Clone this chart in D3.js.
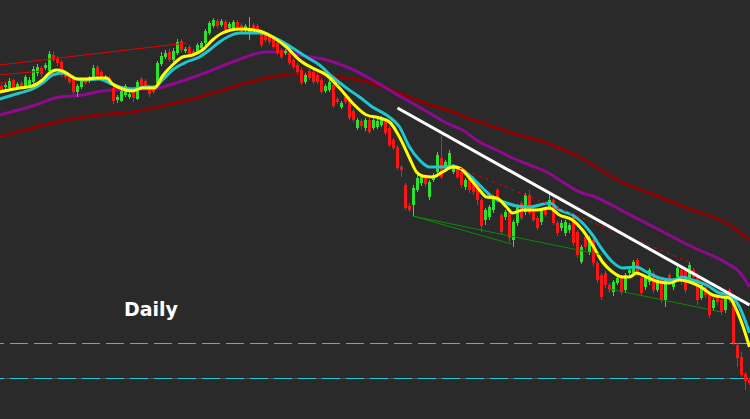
<!DOCTYPE html>
<html>
<head>
<meta charset="utf-8">
<script src="https://cdn.jsdelivr.net/npm/d3@7"></script>
<style>
  html, body { margin: 0; padding: 0; background: #2a2a2a; overflow: hidden; }
  svg { display: block; }
</style>
</head>
<body>
<script>
let WIDTH = 750,
    HEIGHT = 419;

// daily bars, oldest first (price in points)
const opens = [
  414,413,412,420,412,417,414,415,418,427,
  432,432,429,445,442,438,427,425,422,408,
  413,420,419,421,433,428,420,422,412,400,
  399,405,403,408,401,421,419,413,413,417,
  436,443,448,440,447,459,449,453,449,448,
  452,457,467,474,479,475,478,472,471,478,
  475,470,466,475,474,467,465,464,462,457,
  450,447,447,440,435,430,418,429,428,425,
  420,409,410,415,401,393,403,400,389,372,
  379,372,380,372,373,375,378,372,360,353,
  333,315,294,295,310,317,322,303,320,328,
  342,333,335,328,332,328,313,323,322,317,
  300,280,283,290,310,285,283,287,260,277,
  297,288,305,288,282,278,292,293,300,277,
  272,267,270,285,268,238,263,248,260,237,
  225,227,215,208,217,223,210,227,227,240,
  222,213,218,227,210,220,200,225,213,223,
  230,230,220,230,225,202,213,207,192,203,
  200,190,210,200,155,143,126,120
];
const highs = [
  416,418,422,421,418,419,425,423,434,436,
  434,437,449,448,444,440,429,427,424,416,
  421,422,424,435,435,430,425,424,414,405,
  411,416,408,411,420,423,421,415,415,439,
  448,450,451,452,461,461,453,455,451,457,
  459,471,479,482,481,481,480,478,480,480,
  477,476,483,477,476,469,467,466,464,459,
  452,451,449,442,437,432,427,431,430,427,
  422,416,420,418,403,399,405,402,391,382,
  381,382,382,382,381,384,380,374,362,355,
  335,317,297,315,325,325,324,320,327,348,
  365,340,350,336,334,330,322,325,324,319,
  302,292,295,305,312,287,290,289,280,296,
  299,307,310,290,284,292,294,305,302,279,
  280,280,277,287,270,255,265,264,262,239,
  227,229,217,220,224,225,227,232,240,242,
  224,225,232,229,222,222,222,227,222,237,
  232,232,238,232,227,217,215,209,202,205,
  202,204,212,202,157,148,128,122
];
const lows = [
  407,410,409,410,410,411,412,412,416,424,
  423,430,427,438,434,423,421,416,406,403,
  411,415,417,419,423,418,418,415,396,397,
  398,403,401,398,400,411,411,403,406,415,
  434,441,438,438,445,448,447,444,443,446,
  450,455,465,472,472,473,468,470,469,471,
  466,467,460,468,466,453,458,456,451,445,
  441,445,435,431,426,415,416,420,416,416,
  406,407,408,392,396,391,396,380,378,370,
  371,369,366,370,371,373,365,353,350,330,
  323,290,288,283,308,314,313,300,318,325,
  321,331,332,326,321,312,310,307,305,295,
  268,275,280,287,297,266,280,258,253,274,
  280,285,285,278,270,275,283,290,275,264,
  269,264,267,254,242,236,250,245,234,217,
  200,212,207,204,215,205,207,224,224,224,
  204,210,215,207,208,197,193,215,210,220,
  215,207,217,220,195,200,202,182,189,195,
  185,187,197,155,133,123,110,115
];
const closes = [
  410,415,419,412,416,413,423,420,431,433,
  426,435,446,440,437,425,423,418,408,414,
  419,417,421,432,425,420,423,417,399,403,
  409,414,406,402,418,413,413,406,408,437,
  444,447,440,449,458,450,451,446,445,455,
  457,469,477,480,474,479,470,476,478,473,
  468,474,471,470,468,455,460,458,453,447,
  443,449,437,433,428,417,425,422,418,418,
  408,414,418,394,398,397,398,382,380,380,
  374,380,368,380,379,382,367,355,352,332,
  330,292,290,312,322,323,316,318,325,345,
  323,338,347,334,323,315,320,310,308,300,
  274,290,293,302,300,268,288,262,278,293,
  282,305,287,280,272,290,285,300,277,267,
  277,278,275,257,245,253,253,262,237,220,
  203,215,210,218,222,208,225,230,238,227,
  207,223,230,210,220,200,220,217,220,232,
  222,210,235,223,200,215,205,185,200,198,
  188,202,200,157,142,125,119,117
];

// moving averages: [bar, price]
const maFast = [
  [-0.5,408],[4.5,412],[7.75,414],[10.25,420],[12,427],[13.75,430],[15.25,429],[17,425],
  [18.75,421],[21.25,421],[23.75,422],[26.25,422],[27.75,416],[30.25,411],[32.75,409],
  [35.25,412],[38.25,412],[40.25,424],[42.75,435],[45.25,443],[47.75,445],[50.25,450],
  [52.75,460],[55.25,467],[59.5,471],[64.5,469],[67.75,463],[71.25,453],[74.5,440],
  [77.75,432],[81.25,425],[84.5,412],[87.75,397],[91.25,385],[94.5,382],[97,378],
  [99.5,363],[102,342],[103.75,328],[105.25,324],[107.75,323],[110.25,328],[112.75,333],
  [114.5,332],[117,322],[119.5,310],[121.25,303],[123.75,302],[126.25,293],[127.75,287],
  [130.25,290],[133.75,290],[137,292],[139.5,285],[142.75,280],[145.25,270],[147.75,255],
  [150.25,238],[152.75,228],[155.25,223],[157,223],[158.75,227],[161.25,223],[164.5,218],
  [167,217],[169.5,220],[172.75,217],[175.25,212],[177.75,205],[180.25,203],[182,202],
  [183.75,190],[185.25,175],[187,153]
];
const maMid = [
  [-0.5,401],[4.5,407],[7.75,411],[10.25,417],[12.75,425],[15.25,427],[17.75,423],
  [20.25,420],[24.5,421],[27,417],[29.5,413],[32.75,411],[36.25,413],[38.25,413],
  [40.25,420],[42.75,430],[46.25,438],[49.5,443],[52,450],[54.5,458],[57,464],
  [59.5,467],[64.5,467],[69.5,460],[72.75,452],[76.25,443],[79.5,435],[82.75,423],
  [86.25,412],[89.5,403],[92.75,393],[96.25,385],[99.5,373],[102,353],[104.5,340],
  [107,333],[110.25,333],[112.75,334],[115.25,330],[117.75,322],[120.25,312],[122.75,303],
  [126.25,297],[128.75,294],[132,293],[137,297],[139.5,290],[142.75,285],[145.25,277],
  [147.75,265],[150.25,250],[152.75,238],[155.25,232],[158.75,233],[161.25,228],
  [164.5,222],[167.75,220],[170.25,223],[172.75,220],[176.25,215],[179.5,207],[182,205],
  [184.5,193],[187,167]
];
const maSlow = [
  [-0.5,385],[7.75,394],[14.5,403],[20.25,405],[25.25,409],[32.75,411],[37.75,411],
  [42.75,416],[49.5,425],[57.75,438],[66.25,448],[71.25,448],[74.5,445],[81.25,440],
  [87,432],[92.75,420],[99.5,404],[107,387],[111.25,377],[115.25,370],[119.5,358],
  [123.75,350],[127.75,342],[132,335],[136.25,328],[140.25,318],[144.5,308],[147.75,304],
  [156.25,287],[164.5,270],[172.75,253],[181.25,237],[184.5,228],[187,213]
];
const maLong = [
  [-0.5,363],[7.75,372],[16.25,380],[24.5,385],[32.75,388],[41.25,395],[49.5,403],
  [57.75,413],[66.25,422],[74.5,426],[82.75,423],[89.5,420],[99.5,407],[103.75,400],
  [111.25,390],[119.5,378],[127.75,367],[136.25,357],[144.5,343],[154,320],[164.5,303],
  [172.75,290],[181.25,277],[187,260]
];

// drawn lines: [bar, price]
const channelLines = [
  [[-0.5,435],[46.25,457]],
  [[-0.5,425],[10.25,429]],
  [[-0.5,417],[1.25,417.5]]
];
const supportLines = [
  [[102.75,284],[127.5,256]],
  [[102.75,284],[150.25,245]],
  [[152,211],[180,188]]
];
const resistDotted = [[114.5,332],[172,238]];
const trendLine = [[99,392],[187,195]];
const levels = [157, 122];
const label = "Daily";

let svg = d3.select("body").append("svg")
  .attr("width", WIDTH)
  .attr("height", HEIGHT);

svg.append("rect")
  .attr("width", WIDTH)
  .attr("height", HEIGHT)
  .attr("fill", "#2a2a2a");

let bars = d3.range(opens.length);

let x = d3.scaleBand()
  .domain(bars)
  .range([-0.5, 751.5])
  .paddingInner(0.25)
  .paddingOuter(0.125);

let xPos = d3.scaleLinear()
  .domain([0, bars.length - 1])
  .range([x(0) + x.bandwidth()/2, x(bars.length - 1) + x.bandwidth()/2]);

let y = d3.scaleLinear()
  .domain([500, 81])
  .range([0, HEIGHT]);

let line = d3.line()
  .x(d => xPos(d[0]))
  .y(d => y(d[1]));

let smooth = d3.line()
  .x(d => xPos(d[0]))
  .y(d => y(d[1]))
  .curve(d3.curveMonotoneX);

// horizontal levels
svg.append("line")
  .attr("x1", 0).attr("x2", WIDTH)
  .attr("y1", Math.round(y(levels[1])) + 0.5).attr("y2", Math.round(y(levels[1])) + 0.5)
  .attr("stroke", "#555555");

levels.forEach(lv => {
  svg.append("line")
    .attr("x1", 0).attr("x2", WIDTH)
    .attr("y1", Math.round(y(lv)) + 0.5).attr("y2", Math.round(y(lv)) + 0.5)
    .attr("stroke", "#1ec8d2")
    .attr("stroke-dasharray", "18,6")
    .attr("stroke-dashoffset", 14);
});

// slow averages behind the bars
svg.append("path")
  .attr("d", smooth(maLong))
  .attr("fill", "none")
  .attr("stroke", "#8b0000")
  .attr("stroke-width", 3);

svg.append("path")
  .attr("d", smooth(maSlow))
  .attr("fill", "none")
  .attr("stroke", "#8e0a8e")
  .attr("stroke-width", 3);

// candles
let candle = svg.append("g")
  .attr("shape-rendering", "crispEdges")
  .selectAll(".bar")
  .data(bars)
  .enter().append("g")
    .attr("class", "bar");

candle.append("rect")
  .attr("x", i => x(i) + 1)
  .attr("width", 1)
  .attr("y", i => y(highs[i]))
  .attr("height", i => y(lows[i]) - y(highs[i]))
  .attr("fill", i => closes[i] >= opens[i] ? "#2fe12f" : "#ff1414");

candle.append("rect")
  .attr("x", i => x(i))
  .attr("width", x.bandwidth())
  .attr("y", i => y(Math.max(opens[i], closes[i])))
  .attr("height", i => Math.max(1, Math.abs(y(opens[i]) - y(closes[i]))))
  .attr("fill", i => closes[i] >= opens[i] ? "#2fe12f" : "#ff1414");

// fast averages on top
svg.append("path")
  .attr("d", smooth(maMid))
  .attr("fill", "none")
  .attr("stroke", "#1fc6d0")
  .attr("stroke-width", 3);

svg.append("path")
  .attr("d", smooth(maFast))
  .attr("fill", "none")
  .attr("stroke", "#ffff00")
  .attr("stroke-width", 3);

// hand drawn lines
channelLines.forEach(l => {
  svg.append("path")
    .attr("d", line(l))
    .attr("fill", "none")
    .attr("stroke", "#e80000")
    .attr("stroke-width", 1);
});

supportLines.forEach(l => {
  svg.append("path")
    .attr("d", line(l))
    .attr("fill", "none")
    .attr("stroke", "#0a8a0a")
    .attr("stroke-width", 1);
});

svg.append("path")
  .attr("d", line(resistDotted))
  .attr("fill", "none")
  .attr("stroke", "#e80000")
  .attr("stroke-width", 1)
  .attr("stroke-dasharray", "3,4");

svg.append("path")
  .attr("d", line(trendLine))
  .attr("fill", "none")
  .attr("stroke", "#ffffff")
  .attr("stroke-width", 3);

svg.append("text")
  .attr("x", 124)
  .attr("y", 316)
  .attr("fill", "#ffffff")
  .style("font-family", "'DejaVu Sans', sans-serif")
  .style("font-weight", "bold")
  .style("font-size", "19px")
  .text(label);
</script>
</body>
</html>
